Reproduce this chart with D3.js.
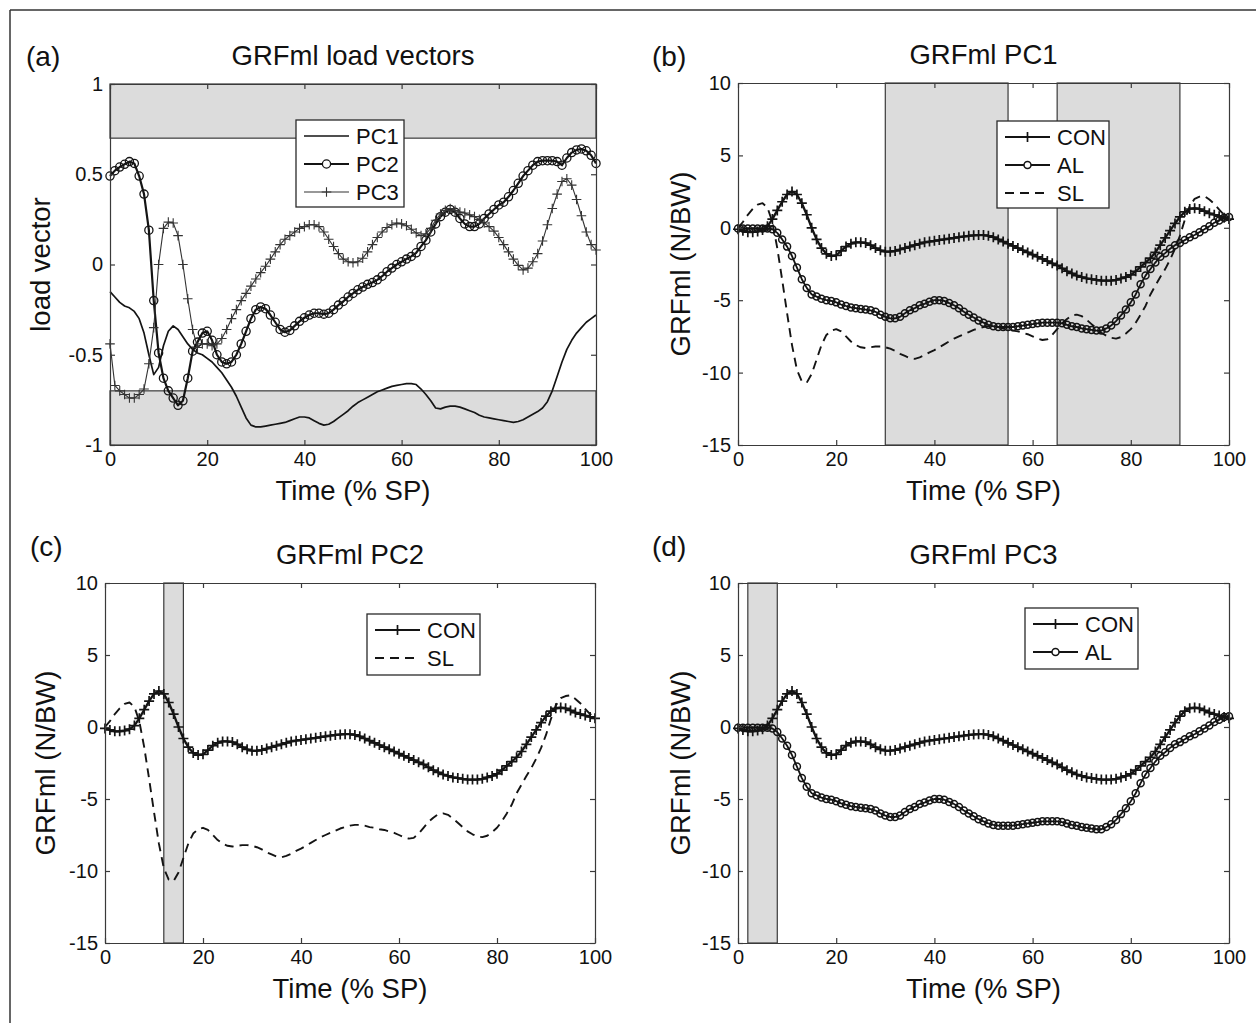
<!DOCTYPE html>
<html><head><meta charset="utf-8">
<script src="https://cdn.jsdelivr.net/npm/d3@7"></script>
<style>
body{margin:0;background:#fff}
text{font-family:"Liberation Sans",Arial,Helvetica,sans-serif;fill:#111}
</style>
</head><body>
<svg id="chart" width="1256" height="1023"></svg>
<script>
// ---------- DATA ----------
const time = d3.range(0, 101); // % of stance phase, one sample per percent

const pc1 = [-0.15,-0.18,-0.21,-0.23,-0.24,-0.26,-0.30,-0.38,-0.50,-0.61,
 -0.57,-0.45,-0.37,-0.34,-0.36,-0.40,-0.44,-0.47,-0.49,-0.50,
 -0.52,-0.54,-0.57,-0.60,-0.64,-0.68,-0.73,-0.79,-0.85,-0.89,
 -0.90,-0.90,-0.895,-0.89,-0.885,-0.88,-0.875,-0.865,-0.855,-0.845,
 -0.845,-0.85,-0.865,-0.88,-0.89,-0.885,-0.87,-0.85,-0.83,-0.81,
 -0.785,-0.765,-0.75,-0.735,-0.72,-0.705,-0.695,-0.685,-0.675,-0.67,
 -0.665,-0.66,-0.66,-0.665,-0.69,-0.72,-0.755,-0.795,-0.80,-0.79,
 -0.785,-0.785,-0.79,-0.80,-0.81,-0.82,-0.835,-0.845,-0.85,-0.855,
 -0.86,-0.865,-0.87,-0.875,-0.87,-0.86,-0.845,-0.83,-0.815,-0.795,
 -0.76,-0.70,-0.62,-0.54,-0.47,-0.42,-0.38,-0.35,-0.32,-0.30,
 -0.28];

const pc2 = [0.49,0.52,0.54,0.555,0.57,0.56,0.49,0.39,0.19,-0.20,
 -0.49,-0.63,-0.70,-0.74,-0.78,-0.755,-0.63,-0.48,-0.43,-0.38,
 -0.37,-0.42,-0.50,-0.54,-0.55,-0.54,-0.50,-0.44,-0.37,-0.30,
 -0.25,-0.235,-0.245,-0.28,-0.32,-0.36,-0.375,-0.365,-0.34,-0.315,
 -0.295,-0.28,-0.27,-0.27,-0.275,-0.27,-0.25,-0.225,-0.205,-0.18,
 -0.16,-0.14,-0.125,-0.11,-0.10,-0.085,-0.065,-0.04,-0.02,0.0,
 0.015,0.03,0.045,0.065,0.10,0.135,0.18,0.225,0.265,0.29,
 0.305,0.29,0.255,0.225,0.21,0.21,0.225,0.255,0.28,0.305,
 0.33,0.345,0.375,0.41,0.45,0.49,0.52,0.55,0.57,0.575,
 0.575,0.575,0.57,0.55,0.59,0.62,0.635,0.64,0.63,0.605,
 0.56];

const pc3 = [-0.44,-0.67,-0.70,-0.72,-0.74,-0.74,-0.72,-0.69,-0.55,-0.35,
 0.0,0.20,0.235,0.23,0.16,0.0,-0.19,-0.36,-0.46,-0.44,
 -0.44,-0.45,-0.44,-0.41,-0.36,-0.30,-0.25,-0.20,-0.16,-0.12,
 -0.08,-0.045,-0.01,0.03,0.07,0.11,0.14,0.16,0.18,0.20,
 0.21,0.22,0.22,0.21,0.18,0.14,0.10,0.06,0.03,0.015,
 0.01,0.015,0.035,0.07,0.11,0.15,0.18,0.205,0.22,0.23,
 0.225,0.215,0.195,0.175,0.16,0.17,0.20,0.245,0.28,0.30,
 0.31,0.30,0.29,0.285,0.275,0.265,0.25,0.23,0.21,0.185,
 0.15,0.11,0.07,0.03,-0.005,-0.03,-0.02,0.015,0.06,0.13,
 0.22,0.31,0.39,0.46,0.475,0.44,0.36,0.27,0.18,0.11,
 0.08];

const con = [-0.1,-0.2,-0.3,-0.3,-0.25,-0.15,0.1,0.6,1.2,1.8,
 2.3,2.5,2.3,1.7,0.9,0.0,-0.8,-1.4,-1.8,-1.95,
 -1.9,-1.6,-1.3,-1.1,-1.0,-1.0,-1.05,-1.2,-1.4,-1.55,
 -1.65,-1.65,-1.6,-1.5,-1.4,-1.3,-1.2,-1.1,-1.0,-0.95,
 -0.9,-0.85,-0.8,-0.75,-0.7,-0.65,-0.6,-0.55,-0.52,-0.5,
 -0.5,-0.55,-0.65,-0.8,-0.95,-1.1,-1.25,-1.4,-1.55,-1.7,
 -1.85,-2.0,-2.15,-2.3,-2.45,-2.6,-2.8,-3.0,-3.15,-3.3,
 -3.4,-3.5,-3.55,-3.6,-3.65,-3.65,-3.65,-3.6,-3.5,-3.4,
 -3.25,-3.0,-2.7,-2.4,-2.1,-1.7,-1.2,-0.7,-0.2,0.3,
 0.75,1.1,1.3,1.35,1.3,1.15,1.0,0.9,0.8,0.7,
 0.6];

const al = [-0.05,-0.05,-0.05,-0.05,-0.05,-0.05,-0.05,-0.1,-0.35,-0.8,
 -1.3,-1.95,-2.75,-3.55,-4.15,-4.6,-4.75,-4.9,-5.0,-5.05,
 -5.15,-5.3,-5.4,-5.5,-5.55,-5.6,-5.65,-5.7,-5.8,-6.0,
 -6.15,-6.25,-6.25,-6.15,-5.9,-5.7,-5.55,-5.35,-5.25,-5.1,
 -5.0,-5.0,-5.05,-5.2,-5.35,-5.55,-5.8,-6.0,-6.2,-6.4,
 -6.55,-6.7,-6.8,-6.85,-6.85,-6.85,-6.85,-6.8,-6.75,-6.7,
 -6.65,-6.6,-6.55,-6.55,-6.55,-6.55,-6.6,-6.7,-6.8,-6.85,
 -6.95,-7.0,-7.05,-7.1,-7.1,-6.95,-6.75,-6.45,-6.05,-5.65,
 -5.15,-4.6,-3.9,-3.3,-2.85,-2.4,-2.0,-1.75,-1.45,-1.2,
 -1.05,-0.85,-0.65,-0.5,-0.3,-0.1,0.1,0.35,0.5,0.7,
 0.75];

const sl = [0.0,0.4,0.9,1.3,1.6,1.7,1.4,0.4,-1.4,-3.6,
 -5.9,-8.1,-9.8,-10.6,-10.7,-10.1,-9.1,-8.1,-7.4,-7.1,
 -7.0,-7.15,-7.5,-7.85,-8.1,-8.25,-8.3,-8.25,-8.2,-8.2,
 -8.25,-8.35,-8.5,-8.7,-8.85,-9.0,-9.05,-8.95,-8.8,-8.6,
 -8.45,-8.25,-8.05,-7.85,-7.65,-7.5,-7.35,-7.2,-7.05,-6.95,
 -6.85,-6.8,-6.8,-6.85,-6.95,-7.0,-7.1,-7.15,-7.25,-7.35,
 -7.5,-7.65,-7.75,-7.7,-7.4,-7.0,-6.6,-6.3,-6.05,-6.0,
 -6.1,-6.35,-6.65,-6.95,-7.25,-7.45,-7.6,-7.65,-7.55,-7.3,
 -7.0,-6.55,-6.0,-5.4,-4.6,-4.0,-3.4,-2.85,-2.2,-1.45,
 -0.55,0.55,1.5,2.0,2.15,2.2,1.95,1.65,1.25,0.9,
 0.6];

const xTicks = [0, 20, 40, 60, 80, 100];
const yTicksLoad = [-1, -0.5, 0, 0.5, 1];
const yTicksGrf = [-15, -10, -5, 0, 5, 10];

// shaded significance regions
const bandsA = [[0.7, 1], [-1, -0.7]];     // horizontal (load vector)
const bandsB = [[30, 55], [65, 90]];       // vertical (time)
const bandsC = [[12, 16]];
const bandsD = [[2, 8]];

// ---------- STYLES ----------
const ink = "#141414";
const styles = {
  PC1: {stroke: ink, width: 1.7, marker: null},
  PC2: {stroke: ink, width: 2.2, marker: "o", r: 4.1, mw: 1.3},
  PC3: {stroke: "#333", width: 1.1, marker: "+", s: 4.8, mw: 1.1},
  CON: {stroke: ink, width: 2.3, marker: "+", s: 5, mw: 1.7},
  AL:  {stroke: ink, width: 1.8, marker: "o", r: 3.5, mw: 1.5},
  SL:  {stroke: ink, width: 1.9, marker: null, dash: "9,6"}
};

const svg = d3.select("#chart");

// outer frame (left and top edges visible)
svg.append("line").attr("x1", 10).attr("y1", 10).attr("x2", 10).attr("y2", 1023)
  .attr("stroke", "#333").attr("stroke-width", 1.5);
svg.append("line").attr("x1", 10).attr("y1", 10).attr("x2", 1256).attr("y2", 10)
  .attr("stroke", "#333").attr("stroke-width", 1.5);

function plus(s) { return `M${-s},0H${s}M0,${-s}V${s}`; }

function panel(cfg) {
  const [L, R, T, B] = cfg.box;
  const x = d3.scaleLinear().domain([0, 100]).range([L, R]);
  const y = d3.scaleLinear().domain(cfg.yDomain).range([B, T]);
  const g = svg.append("g");

  // bands
  (cfg.hbands || []).forEach(b => {
    g.append("rect").attr("x", x(0)).attr("width", x(100) - x(0))
      .attr("y", y(b[1])).attr("height", y(b[0]) - y(b[1]))
      .attr("fill", "#dcdcdc").attr("stroke", "#3a3a3a").attr("stroke-width", 1.2);
  });
  (cfg.vbands || []).forEach(b => {
    g.append("rect").attr("x", x(b[0])).attr("width", x(b[1]) - x(b[0]))
      .attr("y", T).attr("height", B - T)
      .attr("fill", "#dcdcdc").attr("stroke", "#3a3a3a").attr("stroke-width", 1.2);
  });

  // series
  cfg.series.forEach(sr => {
    const st = styles[sr.name];
    const line = d3.line().x((d, i) => x(time[i])).y(d => y(d)).curve(d3.curveLinear);
    g.append("path").datum(sr.data).attr("d", line)
      .attr("fill", "none").attr("stroke", st.stroke).attr("stroke-width", st.width)
      .attr("stroke-dasharray", st.dash || null).attr("stroke-linejoin", "round");
    if (st.marker === "o") {
      g.selectAll(null).data(sr.data).enter().append("circle")
        .attr("cx", (d, i) => x(time[i])).attr("cy", d => y(d)).attr("r", st.r)
        .attr("fill", "none").attr("stroke", st.stroke).attr("stroke-width", st.mw);
    } else if (st.marker === "+") {
      g.selectAll(null).data(sr.data).enter().append("path")
        .attr("transform", (d, i) => `translate(${x(time[i])},${y(d)})`)
        .attr("d", plus(st.s)).attr("fill", "none")
        .attr("stroke", st.stroke).attr("stroke-width", st.mw);
    }
  });

  // axes box with inward ticks
  const fmt = d => String(d);
  const axB = g.append("g").attr("transform", `translate(0,${B})`)
    .call(d3.axisBottom(x).tickValues(xTicks).tickSize(-5).tickSizeOuter(0).tickPadding(7).tickFormat(fmt));
  const axT = g.append("g").attr("transform", `translate(0,${T})`)
    .call(d3.axisTop(x).tickValues(xTicks).tickSize(-5).tickSizeOuter(0).tickFormat(""));
  const axL = g.append("g").attr("transform", `translate(${L},0)`)
    .call(d3.axisLeft(y).tickValues(cfg.yTicks).tickSize(-5).tickSizeOuter(0).tickPadding(7).tickFormat(fmt));
  const axR = g.append("g").attr("transform", `translate(${R},0)`)
    .call(d3.axisRight(y).tickValues(cfg.yTicks).tickSize(-5).tickSizeOuter(0).tickFormat(""));
  [axB, axT, axL, axR].forEach(a => {
    a.selectAll("path.domain").attr("stroke", "#3a3a3a").attr("stroke-width", 1.2);
    a.selectAll("line").attr("stroke", "#3a3a3a").attr("stroke-width", 1.2);
    a.selectAll("text").attr("font-size", 20).attr("fill", "#111")
      .style("font-family", '"Liberation Sans",Arial,sans-serif');
  });

  // title, axis labels, panel letter
  g.append("text").attr("x", (L + R) / 2).attr("y", T - 19).attr("text-anchor", "middle")
    .attr("font-size", 27.5).text(cfg.title);
  g.append("text").attr("x", (L + R) / 2).attr("y", B + 55).attr("text-anchor", "middle")
    .attr("font-size", 27.5).text("Time (% SP)");
  g.append("text").attr("transform", `translate(${cfg.ylabelX},${(T + B) / 2}) rotate(-90)`)
    .attr("text-anchor", "middle").attr("font-size", 27.5).text(cfg.ylabel);
  g.append("text").attr("x", cfg.letter[0]).attr("y", cfg.letter[1]).attr("font-size", 28).text(cfg.letterText);

  // legend
  const lg = cfg.legend;
  const lgG = g.append("g").attr("transform", `translate(${lg.x},${lg.y})`);
  lgG.append("rect").attr("width", lg.w).attr("height", lg.h)
    .attr("fill", "#fff").attr("stroke", "#2a2a2a").attr("stroke-width", 1.3);
  lg.items.forEach((name, i) => {
    const st = styles[name];
    const cy = 16 + i * 28;
    lgG.append("line").attr("x1", 8).attr("x2", 53).attr("y1", cy).attr("y2", cy)
      .attr("stroke", st.stroke).attr("stroke-width", Math.min(st.width, 2))
      .attr("stroke-dasharray", st.dash || null);
    if (st.marker === "o") {
      lgG.append("circle").attr("cx", 30.5).attr("cy", cy).attr("r", st.r)
        .attr("fill", "#fff").attr("stroke", st.stroke).attr("stroke-width", st.mw);
    } else if (st.marker === "+") {
      lgG.append("path").attr("transform", `translate(30.5,${cy})`).attr("d", plus(st.s))
        .attr("stroke", st.stroke).attr("stroke-width", st.mw);
    }
    lgG.append("text").attr("x", 60).attr("y", cy).attr("dy", "0.36em")
      .attr("font-size", 22).text(name);
  });
}

panel({
  box: [110, 596, 84, 445], yDomain: [-1, 1], yTicks: yTicksLoad, hbands: bandsA,
  series: [{name: "PC1", data: pc1}, {name: "PC2", data: pc2}, {name: "PC3", data: pc3}],
  title: "GRFml load vectors", ylabel: "load vector", ylabelX: 50,
  letter: [26, 66], letterText: "(a)",
  legend: {x: 296, y: 120, w: 108, h: 87, items: ["PC1", "PC2", "PC3"]}
});
panel({
  box: [738, 1229, 83, 445], yDomain: [-15, 10], yTicks: yTicksGrf, vbands: bandsB,
  series: [{name: "SL", data: sl}, {name: "AL", data: al}, {name: "CON", data: con}],
  title: "GRFml PC1", ylabel: "GRFml (N/BW)", ylabelX: 690,
  letter: [652, 66], letterText: "(b)",
  legend: {x: 997, y: 121, w: 112, h: 87, items: ["CON", "AL", "SL"]}
});
panel({
  box: [105, 595, 583, 943], yDomain: [-15, 10], yTicks: yTicksGrf, vbands: bandsC,
  series: [{name: "SL", data: sl}, {name: "CON", data: con}],
  title: "GRFml PC2", ylabel: "GRFml (N/BW)", ylabelX: 55,
  letter: [30, 556], letterText: "(c)",
  legend: {x: 367, y: 614, w: 113, h: 61, items: ["CON", "SL"]}
});
panel({
  box: [738, 1229, 583, 943], yDomain: [-15, 10], yTicks: yTicksGrf, vbands: bandsD,
  series: [{name: "AL", data: al}, {name: "CON", data: con}],
  title: "GRFml PC3", ylabel: "GRFml (N/BW)", ylabelX: 690,
  letter: [652, 556], letterText: "(d)",
  legend: {x: 1025, y: 608, w: 113, h: 61, items: ["CON", "AL"]}
});
</script>
</body></html>
